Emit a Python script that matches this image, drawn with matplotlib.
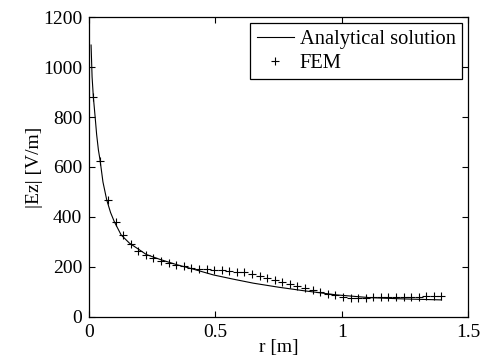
import matplotlib
matplotlib.use("Agg")
import matplotlib.pyplot as plt

plt.rcParams['font.family'] = ['Liberation Serif', 'DejaVu Serif']

# Analytical solution
r_analytic = [0.008, 0.012, 0.017, 0.024, 0.030, 0.037, 0.0435, 0.055, 0.070, 0.085,
              0.100, 0.127, 0.160, 0.200, 0.226, 0.281, 0.347, 0.413, 0.492,
              0.571, 0.650, 0.749, 0.848, 0.98, 1.112, 1.244, 1.395]
e_analytic = [1088, 960, 880, 801, 730, 668, 628, 540, 468, 418,
              381, 328, 295, 268, 250, 230, 209, 191, 168,
              151, 135, 119, 105, 88, 77, 72, 68]

# FEM results
r_fem = [0.015, 0.045, 0.075, 0.105, 0.135, 0.165, 0.195, 0.225, 0.255, 0.285,
         0.315, 0.345, 0.375, 0.405, 0.435, 0.465, 0.495, 0.525, 0.555, 0.585,
         0.615, 0.645, 0.675, 0.705, 0.735, 0.765, 0.795, 0.825, 0.855, 0.885,
         0.915, 0.945, 0.975, 1.005, 1.035, 1.065, 1.095, 1.125, 1.155, 1.185,
         1.215, 1.245, 1.275, 1.305, 1.335, 1.365, 1.395]
e_fem = [880, 624, 468, 381, 328, 292, 265, 248, 235, 224,
         215, 208, 202, 197, 193, 190, 188, 186, 184, 181,
         178, 172, 165, 155, 146, 139, 131, 124, 116, 108,
         100, 93, 86, 80, 76, 75, 76, 78, 79, 80,
         80, 81, 81, 81, 82, 82, 82]

xticks = [0, 0.5, 1, 1.5]
xticklabels = ['0', '0.5', '1', '1.5']
yticks = [0, 200, 400, 600, 800, 1000, 1200]

fig = plt.figure(figsize=(4.84, 3.63), dpi=100)
ax = fig.add_axes([0.184, 0.127, 0.783, 0.826])

ax.plot(r_analytic, e_analytic, '-', color='black', lw=0.8, label='Analytical solution')
ax.plot(r_fem, e_fem, '+', color='black', ms=6, mew=0.8, linestyle='none', label='FEM')

ax.set_xlim(0, 1.5)
ax.set_ylim(0, 1200)
ax.set_xticks(xticks)
ax.set_xticklabels(xticklabels)
ax.set_yticks(yticks)
ax.tick_params(direction='in', length=4, width=0.8, top=True, right=True,
               labelsize=14, pad=5, colors='black')
for s in ax.spines.values():
    s.set_linewidth(0.9)

ax.set_xlabel('r [m]', fontsize=14, labelpad=-1)
ax.set_ylabel('|Ez| [V/m]', fontsize=14, labelpad=0)

leg = ax.legend(loc='upper right', fontsize=14.8, frameon=True, fancybox=False,
                edgecolor='black', framealpha=1, borderpad=0.3, labelspacing=0.25,
                handlelength=1.8, handletextpad=0.3, borderaxespad=0.3)
leg.get_frame().set_linewidth(0.9)

fig.savefig('out.png', dpi=100)
